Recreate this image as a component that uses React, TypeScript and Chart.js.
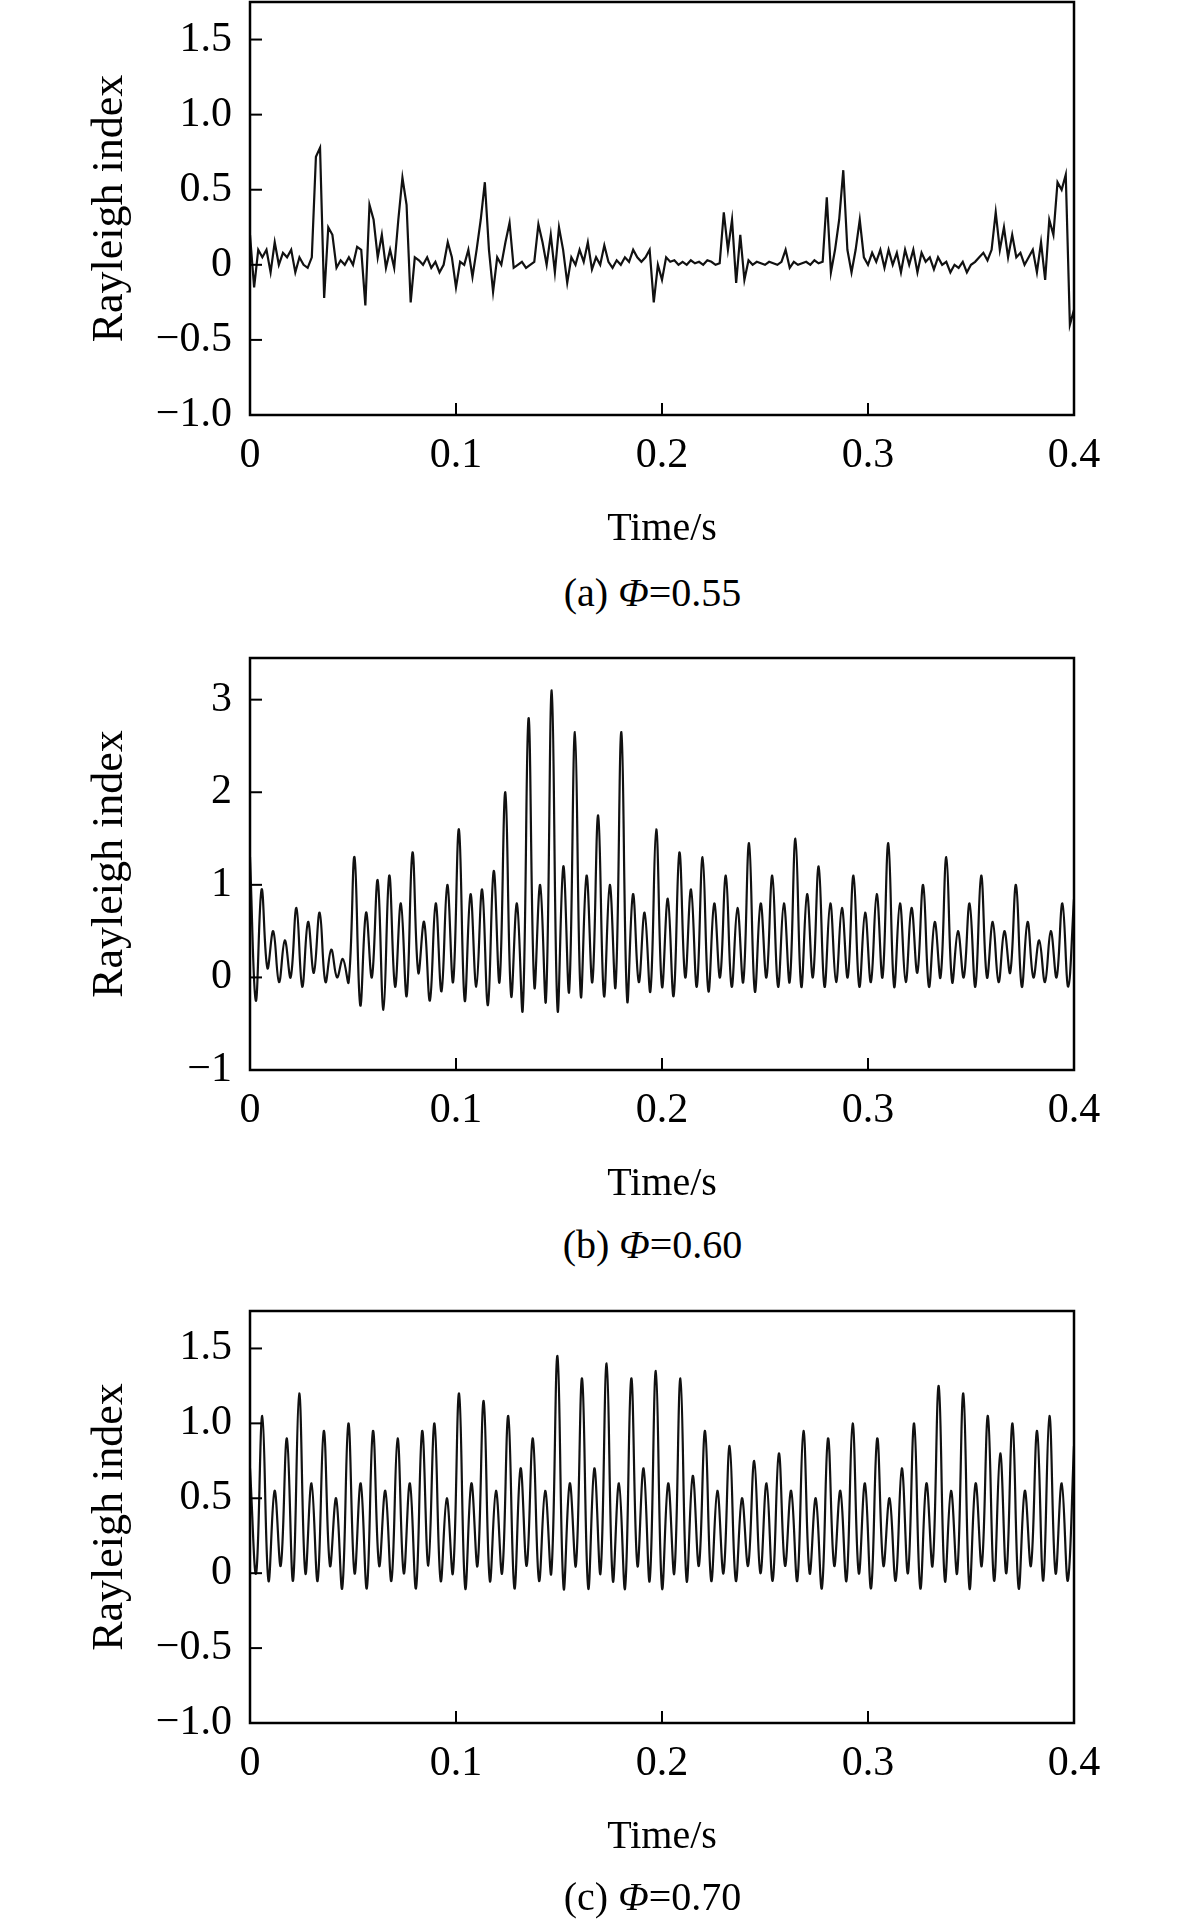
import React, { useEffect, useRef } from "react";
import { Chart, registerables } from "chart.js";
Chart.register(...registerables);

const timeMax = 0.4;
const xTicks = [0, 0.1, 0.2, 0.3, 0.4];
const xTickLabels = ["0", "0.1", "0.2", "0.3", "0.4"];
const yTicksA = [-1, -0.5, 0, 0.5, 1, 1.5];
const yTickLabelsA = ["\u22121.0", "\u22120.5", "0", "0.5", "1.0", "1.5"];
const yTicksB = [-1, 0, 1, 2, 3];
const yTickLabelsB = ["\u22121", "0", "1", "2", "3"];

// Φ=0.55, sampled every 0.002 s
const seriesA = [
  0.2, -0.15, 0.1, 0.05, 0.1, -0.05, 0.15, 0.0, 0.08, 0.05,
  0.1, -0.05, 0.05, 0.0, -0.02, 0.05, 0.72, 0.78, -0.22, 0.25,
  0.2, -0.02, 0.03, 0.0, 0.05, 0.0, 0.12, 0.1, -0.27, 0.4,
  0.3, 0.05, 0.2, -0.02, 0.1, -0.02, 0.3, 0.58, 0.4, -0.25,
  0.05, 0.03, 0.0, 0.05, -0.02, 0.02, -0.05, 0.0, 0.15, 0.05,
  -0.15, 0.02, 0.0, 0.1, -0.08, 0.1, 0.3, 0.55, 0.1, -0.18,
  0.05, 0.0, 0.15, 0.28, -0.02, 0.0, 0.02, -0.02, 0.0, 0.02,
  0.27, 0.15, 0.0, 0.2, -0.05, 0.25, 0.1, -0.12, 0.05, 0.0,
  0.1, 0.02, 0.15, -0.03, 0.05, 0.0, 0.13, 0.02, -0.02, 0.03,
  0.0, 0.05, 0.02, 0.1, 0.05, 0.02, 0.05, 0.1, -0.25, 0.0,
  -0.1, 0.05, 0.02, 0.03, 0.0, 0.02, 0.0, 0.03, 0.01, 0.02,
  0.0, 0.03, 0.02, 0.0, 0.01, 0.35, 0.1, 0.3, -0.12, 0.2,
  -0.1, 0.03, 0.0, 0.02, 0.01, 0.0, 0.02, 0.01, 0.0, 0.02,
  0.1, -0.02, 0.02, 0.0, 0.01, 0.02, 0.0, 0.03, 0.01, 0.02,
  0.45, -0.05, 0.1, 0.3, 0.63, 0.1, -0.05, 0.1, 0.3, 0.05,
  0.0, 0.08, 0.02, 0.1, -0.02, 0.1, 0.0, 0.08, -0.05, 0.1,
  0.0, 0.1, -0.05, 0.08, 0.02, 0.05, -0.03, 0.05, 0.0, 0.02,
  -0.05, 0.0, -0.02, 0.02, -0.05, 0.0, 0.02, 0.05, 0.08, 0.03,
  0.1, 0.35, 0.1, 0.25, 0.05, 0.2, 0.05, 0.08, 0.0, 0.05,
  0.1, -0.05, 0.15, -0.1, 0.3, 0.2, 0.55, 0.5, 0.6, -0.4, -0.3,
];
const stepA = 0.002;

// Φ=0.60: successive peaks and troughs
const peaksB = [
  1.3, 0.95, 0.5, 0.4, 0.75, 0.6, 0.7, 0.3, 0.2, 1.3, 0.7, 1.05, 1.1, 0.8, 1.35, 0.6,
  0.8, 1.0, 1.6, 0.9, 0.95, 1.15, 2.0, 0.8, 2.8, 1.0, 3.1, 1.2, 2.65, 1.1, 1.75, 1.0,
  2.65, 0.9, 0.7, 1.6, 0.85, 1.35, 0.95, 1.3, 0.8, 1.1, 0.75, 1.45, 0.8, 1.1, 0.8, 1.5,
  0.9, 1.2, 0.8, 0.75, 1.1, 0.7, 0.9, 1.45, 0.8, 0.75, 1.0, 0.6, 1.3, 0.5, 0.8, 1.1,
  0.6, 0.5, 1.0, 0.6, 0.4, 0.5, 0.8, 0.85,
];
const troughsB = [
  -0.25, 0.1, -0.05, 0.0, -0.1, 0.05, -0.05, 0.0, -0.05, -0.3, 0.0, -0.35, -0.1, -0.2, 0.05, -0.25,
  -0.15, -0.05, -0.25, -0.1, -0.3, -0.05, -0.2, -0.35, -0.1, -0.25, -0.35, -0.15, -0.2, -0.05, -0.2, -0.1,
  -0.25, -0.05, -0.15, -0.1, -0.2, 0.0, -0.1, -0.15, 0.0, -0.1, -0.05, -0.15, 0.0, -0.1, -0.05, -0.1,
  0.0, -0.1, -0.05, 0.0, -0.1, -0.05, 0.0, -0.1, -0.05, 0.05, -0.1, 0.0, -0.05, 0.0, -0.1, 0.0,
  -0.05, 0.05, -0.1, 0.0, -0.05, 0.0, -0.1,
];

// Φ=0.70: successive peaks and troughs
const peaksC = [
  0.7, 1.05, 0.55, 0.9, 1.2, 0.6, 0.95, 0.5, 1.0, 0.6, 0.95, 0.55, 0.9, 0.6, 0.95, 1.0,
  0.5, 1.2, 0.6, 1.15, 0.55, 1.05, 0.7, 0.9, 0.55, 1.45, 0.6, 1.3, 0.7, 1.4, 0.6, 1.3,
  0.7, 1.35, 0.6, 1.3, 0.65, 0.95, 0.55, 0.85, 0.5, 0.75, 0.6, 0.8, 0.55, 0.95, 0.5, 0.9,
  0.55, 1.0, 0.6, 0.9, 0.5, 0.7, 1.0, 0.6, 1.25, 0.55, 1.2, 0.6, 1.05, 0.8, 1.0, 0.55,
  0.95, 1.05, 0.6, 0.85,
];
const troughsC = [
  0.0, -0.05, 0.05, -0.05, 0.0, -0.05, 0.05, -0.1, 0.0, -0.1, 0.05, -0.05, 0.0, -0.1, 0.05, -0.05,
  0.0, -0.1, 0.05, -0.05, 0.0, -0.1, 0.05, -0.05, 0.0, -0.1, 0.05, -0.1, 0.0, -0.05, -0.1, 0.05,
  -0.05, -0.1, 0.0, -0.05, 0.05, -0.05, 0.0, -0.05, 0.05, 0.0, -0.05, 0.05, -0.05, 0.0, -0.1, 0.05,
  -0.05, 0.0, -0.1, 0.05, -0.05, 0.0, -0.1, 0.05, -0.05, 0.0, -0.1, 0.05, -0.05, 0.0, -0.1, 0.05,
  -0.05, 0.0, -0.05,
];

const FONT = "Liberation Serif, Tinos, Times New Roman, Times, serif";

function uniformPoints(vals: number[], step: number) {
  return vals.map((v, i) => ({ x: i * step, y: v }));
}
function interleave(peaks: number[], troughs: number[]) {
  const vals: number[] = [];
  for (let i = 0; i < peaks.length; i++) {
    vals.push(peaks[i]);
    if (i < troughs.length) vals.push(troughs[i]);
  }
  const step = timeMax / (vals.length - 1);
  return uniformPoints(vals, step);
}

const framePlugin = {
  id: "frame",
  afterDraw(chart: any) {
    const { ctx, chartArea: a, scales } = chart;
    ctx.save();
    ctx.strokeStyle = "#000";
    ctx.lineWidth = 2.5;
    ctx.strokeRect(a.left, a.top, a.right - a.left, a.bottom - a.top);
    ctx.lineWidth = 2;
    const L = 12;
    scales.x.ticks.forEach((t: any) => {
      const px = scales.x.getPixelForValue(t.value);
      ctx.beginPath();
      ctx.moveTo(px, a.bottom);
      ctx.lineTo(px, a.bottom - L);
      ctx.stroke();
    });
    scales.y.ticks.forEach((t: any) => {
      const py = scales.y.getPixelForValue(t.value);
      ctx.beginPath();
      ctx.moveTo(a.left, py);
      ctx.lineTo(a.left + L, py);
      ctx.stroke();
    });
    ctx.restore();
  },
};

type PanelProps = {
  top: number;
  plotH: number;
  data: { x: number; y: number }[];
  yMin: number;
  yMax: number;
  yTicks: number[];
  yLabels: string[];
  tension: number;
};

function Panel({ top, plotH, data, yMin, yMax, yTicks, yLabels, tension }: PanelProps) {
  const ref = useRef<HTMLCanvasElement>(null);
  const padTop = 3;
  const xAxisH = 150;
  const padLeft = 84;
  const height = padTop + plotH + xAxisH;
  useEffect(() => {
    const chart = new Chart(ref.current!, {
      type: "line",
      data: {
        datasets: [
          {
            data,
            borderColor: "#111",
            borderWidth: 2.2,
            pointRadius: 0,
            tension,
            fill: false,
          },
        ],
      },
      options: {
        animation: false,
        responsive: false,
        devicePixelRatio: 1,
        layout: { padding: { top: padTop, right: 107, left: padLeft, bottom: 0 } },
        plugins: { legend: { display: false }, tooltip: { enabled: false } },
        scales: {
          x: {
            type: "linear",
            min: 0,
            max: timeMax,
            grid: { display: false },
            border: { display: false },
            afterBuildTicks: (s: any) => {
              s.ticks = xTicks.map((v) => ({ value: v }));
            },
            afterFit: (s: any) => {
              s.height = xAxisH;
              s.paddingLeft = 0;
              s.paddingRight = 0;
            },
            ticks: {
              color: "#000",
              font: { family: FONT, size: 42 },
              padding: 8,
              maxRotation: 0,
              callback: (v: any) => xTickLabels[xTicks.indexOf(Number(v))] ?? "",
            },
            title: {
              display: true,
              text: "Time/s",
              color: "#000",
              font: { family: FONT, size: 40 },
              padding: { top: 0, bottom: 12 },
            },
          },
          y: {
            type: "linear",
            min: yMin,
            max: yMax,
            grid: { display: false },
            border: { display: false },
            afterBuildTicks: (s: any) => {
              s.ticks = yTicks.map((v) => ({ value: v }));
            },
            afterFit: (s: any) => {
              s.width = 250 - padLeft;
              s.paddingTop = 0;
              s.paddingBottom = 0;
            },
            ticks: {
              color: "#000",
              font: { family: FONT, size: 42 },
              padding: 10,
              callback: (v: any) => yLabels[yTicks.indexOf(Number(v))] ?? "",
            },
            title: {
              display: true,
              text: "Rayleigh index",
              color: "#000",
              font: { family: FONT, size: 44 },
              padding: { top: 0, bottom: 0 },
            },
          },
        },
      },
      plugins: [framePlugin],
    } as any);
    return () => chart.destroy();
  }, []);
  return (
    <canvas
      ref={ref}
      width={1181}
      height={height}
      style={{ position: "absolute", left: 0, top: top - padTop, width: 1181, height }}
    />
  );
}

function Caption({ y, label, value }: { y: number; label: string; value: string }) {
  return (
    <div
      style={{
        position: "absolute",
        left: 0,
        width: 1305,
        top: y - 25,
        textAlign: "center",
        fontFamily: FONT,
        fontSize: 40,
        lineHeight: "50px",
        color: "#000",
      }}
    >
      {label} <i>Φ</i>={value}
    </div>
  );
}

export default function App() {
  useEffect(() => {
    document.body.style.margin = "0";
    document.body.style.background = "#fff";
  }, []);
  return (
    <div style={{ position: "relative", width: 1181, height: 1924, background: "#fff" }}>
      <Panel top={2} plotH={413} data={uniformPoints(seriesA, stepA)} yMin={-1} yMax={1.75}
        yTicks={yTicksA} yLabels={yTickLabelsA} tension={0} />
      <Caption y={593} label="(a)" value="0.55" />
      <Panel top={658} plotH={412} data={interleave(peaksB, troughsB)} yMin={-1} yMax={3.45}
        yTicks={yTicksB} yLabels={yTickLabelsB} tension={0.4} />
      <Caption y={1245} label="(b)" value="0.60" />
      <Panel top={1311} plotH={412} data={interleave(peaksC, troughsC)} yMin={-1} yMax={1.75}
        yTicks={yTicksA} yLabels={yTickLabelsA} tension={0.4} />
      <Caption y={1897} label="(c)" value="0.70" />
    </div>
  );
}
